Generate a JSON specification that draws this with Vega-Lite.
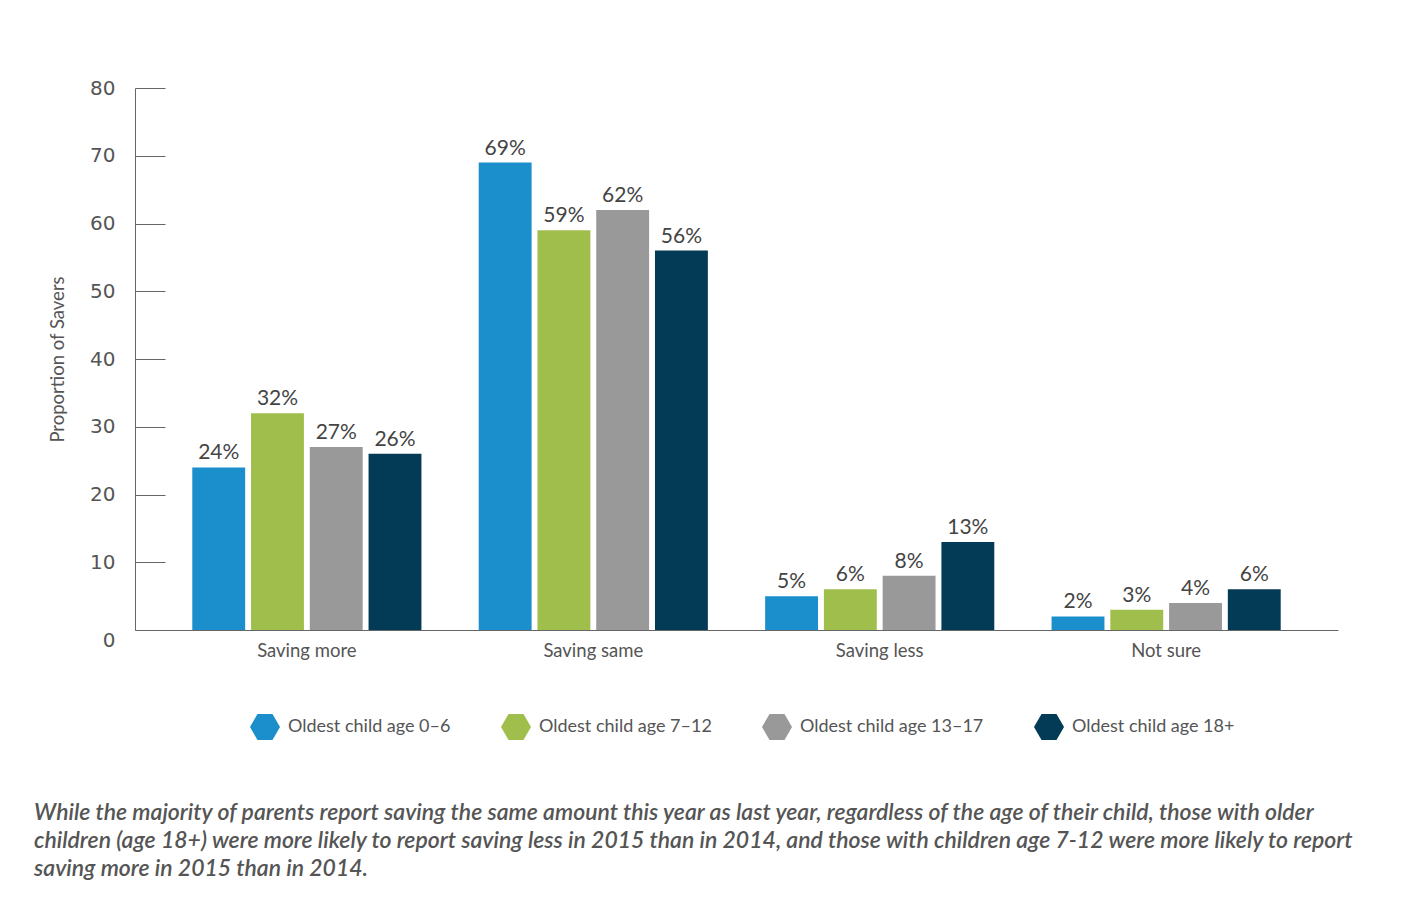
{
  "$schema": "https://vega.github.io/schema/vega-lite/v6.json",
  "autosize": {"type": "none"},
  "width": 1203,
  "height": 542,
  "padding": {"left": 135, "top": 88, "right": 65, "bottom": 269},
  "background": "white",
  "data": {"values": [
    {"category": "Saving more", "group": "Oldest child age 0–6", "value": 24, "label": "24%"},
    {"category": "Saving more", "group": "Oldest child age 7–12", "value": 32, "label": "32%"},
    {"category": "Saving more", "group": "Oldest child age 13–17", "value": 27, "label": "27%"},
    {"category": "Saving more", "group": "Oldest child age 18+", "value": 26, "label": "26%"},
    {"category": "Saving same", "group": "Oldest child age 0–6", "value": 69, "label": "69%"},
    {"category": "Saving same", "group": "Oldest child age 7–12", "value": 59, "label": "59%"},
    {"category": "Saving same", "group": "Oldest child age 13–17", "value": 62, "label": "62%"},
    {"category": "Saving same", "group": "Oldest child age 18+", "value": 56, "label": "56%"},
    {"category": "Saving less", "group": "Oldest child age 0–6", "value": 5, "label": "5%"},
    {"category": "Saving less", "group": "Oldest child age 7–12", "value": 6, "label": "6%"},
    {"category": "Saving less", "group": "Oldest child age 13–17", "value": 8, "label": "8%"},
    {"category": "Saving less", "group": "Oldest child age 18+", "value": 13, "label": "13%"},
    {"category": "Not sure", "group": "Oldest child age 0–6", "value": 2, "label": "2%"},
    {"category": "Not sure", "group": "Oldest child age 7–12", "value": 3, "label": "3%"},
    {"category": "Not sure", "group": "Oldest child age 13–17", "value": 4, "label": "4%"},
    {"category": "Not sure", "group": "Oldest child age 18+", "value": 6, "label": "6%"}
  ]},
  "title": {
    "text": [
      "While the majority of parents report saving the same amount this year as last year, regardless of the age of their child, those with older",
      "children (age 18+) were more likely to report saving less in 2015 than in 2014, and those with children age 7-12 were more likely to report",
      "saving more in 2015 than in 2014."
    ],
    "orient": "bottom",
    "anchor": "start",
    "frame": "group",
    "dx": -101,
    "offset": 62,
    "font": "Lato",
    "fontSize": 23,
    "fontStyle": "italic",
    "fontWeight": 600,
    "color": "#555555",
    "lineHeight": 28
  },
  "encoding": {
    "x": {
      "field": "category",
      "type": "nominal",
      "sort": ["Saving more", "Saving same", "Saving less", "Not sure"],
      "scale": {"paddingInner": 0.2, "paddingOuter": 0.2},
      "axis": {
        "title": null,
        "labelAngle": 0,
        "ticks": false,
        "labelPadding": 11,
        "labelFont": "Lato",
        "labelFontSize": 18.5,
        "labelColor": "#555555",
        "domainColor": "#666666",
        "domainWidth": 1
      }
    },
    "xOffset": {
      "field": "group",
      "type": "nominal",
      "sort": ["Oldest child age 0–6", "Oldest child age 7–12", "Oldest child age 13–17", "Oldest child age 18+"],
      "scale": {"paddingInner": 0.1, "paddingOuter": 0}
    },
    "y": {
      "field": "value",
      "type": "quantitative",
      "scale": {"domain": [0, 80], "nice": false},
      "axis": {
        "title": "Proportion of Savers",
        "titleFont": "Lato",
        "titleFontSize": 18.5,
        "titleFontWeight": "normal",
        "titleColor": "#555555",
        "titlePadding": 22,
        "values": [0, 10, 20, 30, 40, 50, 60, 70, 80],
        "grid": false,
        "tickSize": -30,
        "tickColor": "#666666",
        "labelPadding": 50,
        "labelOffset": {"condition": {"test": "datum.value == 0", "value": 10}, "value": 0},
        "labelFont": "DejaVu Sans",
        "labelFontSize": 20,
        "labelColor": "#555555",
        "domainColor": "#666666"
      }
    }
  },
  "layer": [
    {
      "mark": {"type": "bar"},
      "encoding": {
        "color": {
          "field": "group",
          "type": "nominal",
          "sort": ["Oldest child age 0–6", "Oldest child age 7–12", "Oldest child age 13–17", "Oldest child age 18+"],
          "scale": {
            "domain": ["Oldest child age 0–6", "Oldest child age 7–12", "Oldest child age 13–17", "Oldest child age 18+"],
            "range": ["#1B8FCC", "#A0BE4B", "#999999", "#033A55"]
          },
          "legend": {
            "title": null,
            "orient": "none",
            "legendX": 115,
            "legendY": 624,
            "direction": "horizontal",
            "symbolType": "M-1,0L-0.5,-0.866L0.5,-0.866L1,0L0.5,0.866L-0.5,0.866Z",
            "symbolSize": 900,
            "symbolStrokeWidth": 0,
            "symbolOpacity": 1,
            "labelFont": "Lato",
            "labelFontSize": 18,
            "labelColor": "#555555",
            "labelOffset": 8,
            "columnPadding": 50,
            "labelLimit": 300
          }
        }
      }
    },
    {
      "mark": {"type": "text", "baseline": "bottom", "dy": -4, "font": "Lato", "fontSize": 21, "color": "#444444"},
      "encoding": {
        "text": {"field": "label"}
      }
    }
  ],
  "config": {
    "view": {"stroke": null}
  }
}
